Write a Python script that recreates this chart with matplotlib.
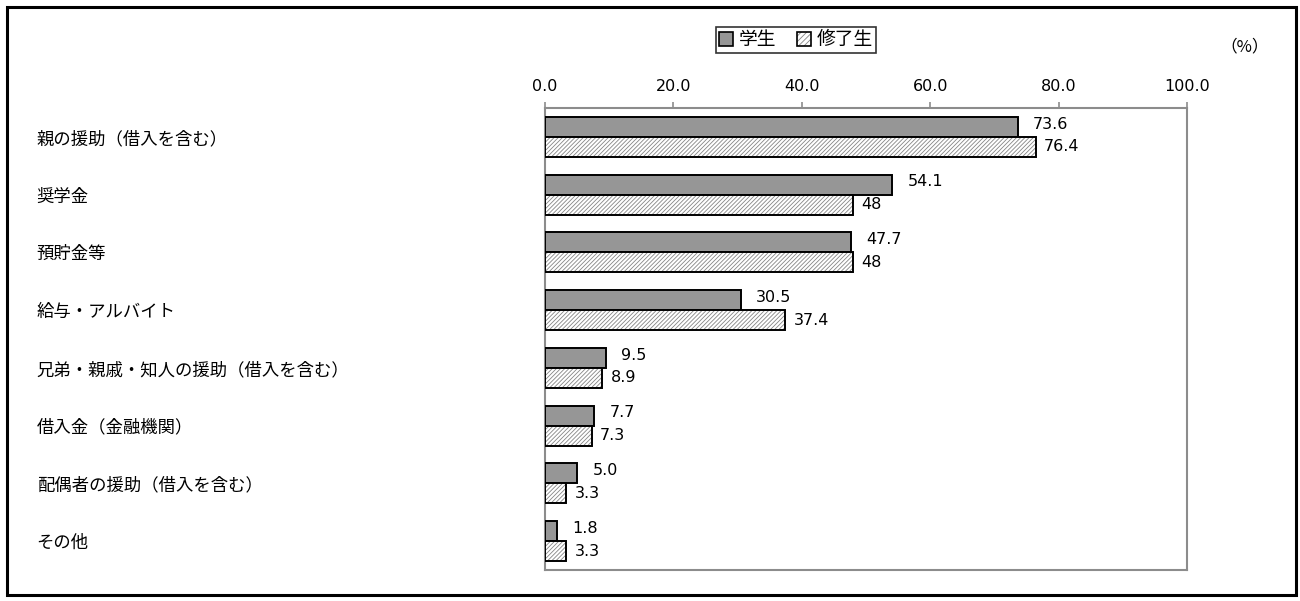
import matplotlib
matplotlib.use("Agg")
import matplotlib.pyplot as plt
from matplotlib.patches import Patch, Rectangle
import numpy as np

plt.rcParams["font.family"] = ["Noto Sans CJK JP", "DejaVu Sans"]
plt.rcParams["hatch.linewidth"] = 0.6

categories = [
    "親の援助（借入を含む）",
    "奨学金",
    "預貯金等",
    "給与・アルバイト",
    "兄弟・親戚・知人の援助（借入を含む）",
    "借入金（金融機関）",
    "配偶者の援助（借入を含む）",
    "その他",
]
students = [73.6, 54.1, 47.7, 30.5, 9.5, 7.7, 5.0, 1.8]
graduates = [76.4, 48, 48, 37.4, 8.9, 7.3, 3.3, 3.3]
series_names = ["学生", "修了生"]
xticks = [0, 20, 40, 60, 80, 100]

GRAY = "#969696"
HATCH_COLOR = "#858585"
SPINE = "#8c8c8c"
NUM_FONT = "DejaVu Sans"

fig = plt.figure(figsize=(13, 6.01), dpi=100)
ax = fig.add_axes([0.4192, 0.0516, 0.4939, 0.7687])

pos = np.arange(len(categories))
h = 0.346

ax.barh(pos - h / 2, students, height=h, color=GRAY, edgecolor="black", linewidth=1.4, zorder=3)
# hatched bars: hatch in gray, then a black outline on top
ax.barh(pos + h / 2, graduates, height=h, color="white", edgecolor=HATCH_COLOR,
        hatch="////////", linewidth=0, zorder=3)
ax.barh(pos + h / 2, graduates, height=h, fill=False, edgecolor="black", linewidth=1.4, zorder=4)

for p, v in zip(pos, students):
    ax.annotate(f"{v:.1f}", (v, p - h / 2), xytext=(11, 2), textcoords="offset points",
                ha="left", va="center", fontsize=11.5, family=NUM_FONT)
for p, v in zip(pos, graduates):
    ax.annotate(f"{v:g}", (v, p + h / 2), xytext=(6, 0), textcoords="offset points",
                ha="left", va="center", fontsize=11.5, family=NUM_FONT)

ax.set_xlim(0, 100)
ax.set_ylim(len(categories) - 0.5, -0.5)
ax.xaxis.tick_top()
ax.set_xticks(xticks, [f"{t:.1f}" for t in xticks])
ax.tick_params(axis="x", direction="out", length=4, width=1.2, color=SPINE, pad=6, labelsize=11.5)
for lbl in ax.get_xticklabels():
    lbl.set_family(NUM_FONT)
ax.set_yticks(pos, categories)
ax.tick_params(axis="y", length=0, pad=366, labelsize=12.5)
for lbl in ax.get_yticklabels():
    lbl.set_ha("left")
for s in ax.spines.values():
    s.set_color(SPINE)
    s.set_linewidth(1.5)

handles = [
    Patch(facecolor=GRAY, edgecolor="black", linewidth=1.2),
    (Patch(facecolor="white", edgecolor=HATCH_COLOR, hatch="//////", linewidth=0),
     Patch(fill=False, edgecolor="black", linewidth=1.2)),
]
leg = fig.legend(handles, series_names, loc="center", bbox_to_anchor=(796 / 1300, 1 - 40 / 601),
                 ncol=2, frameon=True, fancybox=False, edgecolor="black", fontsize=13.5,
                 handlelength=0.75, handleheight=0.75, handletextpad=0.3, columnspacing=1.1,
                 borderpad=0.15, borderaxespad=0)
leg.get_frame().set_linewidth(1.2)

fig.text(1245 / 1300, 1 - 47 / 601, "（%）", ha="center", va="center", fontsize=12)

fig.patches.append(Rectangle((7 / 1300, 6 / 601), 1289 / 1300, 588 / 601, transform=fig.transFigure,
                             fill=False, edgecolor="black", linewidth=2.2))

fig.savefig("out.png", dpi=100)
